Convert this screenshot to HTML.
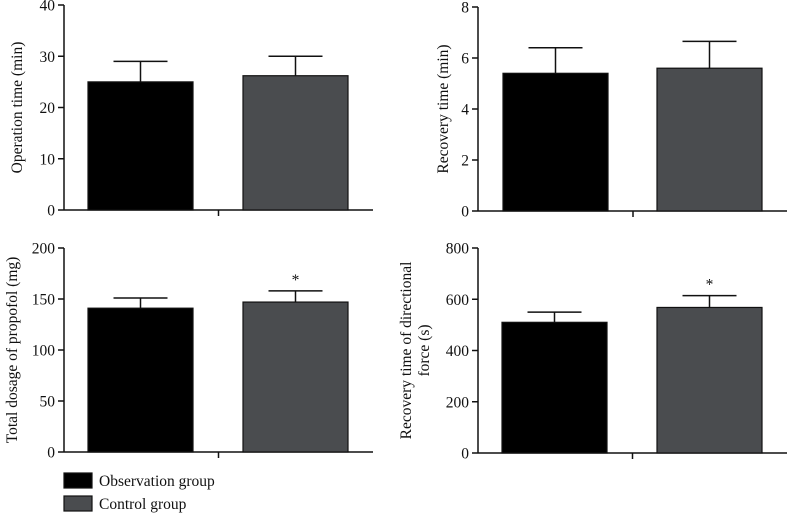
<!DOCTYPE html>
<html><head><meta charset="utf-8"><style>
body{margin:0;background:#fff;}
svg text{font-family:"Liberation Serif",serif;fill:#111;}
</style></head><body>
<svg id="c" width="787" height="514" xmlns="http://www.w3.org/2000/svg"></svg>
<script>
const groups=["Observation group","Control group"];
const opMeans=[25,26.2], opErr=[4,3.8];
const recMeans=[5.4,5.6], recErr=[1.0,1.05];
const propMeans=[141,147], propErr=[10,11];
const forceMeans=[510,568], forceErr=[40,46];
const opTicks=[0,10,20,30,40], recTicks=[0,2,4,6,8], propTicks=[0,50,100,150,200], forceTicks=[0,200,400,600,800];
const propSig=[false,true], forceSig=[false,true];
const colors=["#000000","#4a4c4f"];
const NS="http://www.w3.org/2000/svg";
const svg=document.getElementById('c');
const FS=15.5;
function mk(t,a,p){const e=document.createElementNS(NS,t);for(const k in a)e.setAttribute(k,a[k]);(p||svg).appendChild(e);return e;}
function panel(name,ax,axEnd,yTop,yBot,ticks,means,errs,sig,title,bx,labX){
  const g=mk('g',{});
  
  
  const max=ticks[ticks.length-1];
  const y=v=>yBot-(v/max)*(yBot-yTop);
  const ya=mk('line',{x1:ax,y1:yTop,x2:ax,y2:yBot,stroke:'#111','stroke-width':1.5},g);
  
  
  const xa=mk('line',{x1:ax,y1:yBot,x2:axEnd,y2:yBot,stroke:'#111','stroke-width':1.5},g);
  
  
  const mid=(bx[0]+bx[1]+106)/2;
  mk('line',{x1:mid,y1:yBot,x2:mid,y2:yBot+6,stroke:'#111','stroke-width':1.5},g);
  ticks.forEach(t=>{
    mk('line',{x1:ax-6,y1:y(t),x2:ax,y2:y(t),stroke:'#111','stroke-width':1.5},g);
    const tx=mk('text',{x:ax-9,y:y(t)+5.5,'text-anchor':'end','font-size':FS},g);
    tx.textContent=t;
    
    
  });
  means.forEach((m,i)=>{
    const x0=bx[i],w=105,cx=x0+w/2,top=y(m),et=y(m+errs[i]);
    mk('line',{x1:cx,y1:top,x2:cx,y2:et,stroke:'#111','stroke-width':1.5},g);
    mk('line',{x1:cx-27,y1:et,x2:cx+27,y2:et,stroke:'#111','stroke-width':1.5},g);
    const r=mk('rect',{x:x0,y:top,width:w,height:yBot-top,fill:colors[i],stroke:'#111','stroke-width':1.2},g);
    
    
    if(sig&&sig[i]){const s=mk('text',{x:cx,y:et-6,'text-anchor':'middle','font-size':FS},g);s.textContent='*';
      
      }
  });
  const cy=(yTop+yBot)/2;
  title.forEach((line,k)=>{
    const tt=mk('text',{x:0,y:0,'text-anchor':'middle','font-size':FS,transform:`translate(${labX+k*18},${cy}) rotate(-90)`},g);
    tt.textContent=line;
    
    
  });
}
panel('operation-time-panel',64,373,5,210,opTicks,opMeans,opErr,null,['Operation time (min)'],[88,243],22);
panel('recovery-time-panel',478,787,7,211,recTicks,recMeans,recErr,null,['Recovery time (min)'],[503,657],448);
panel('propofol-dosage-panel',64,373,248,452,propTicks,propMeans,propErr,propSig,['Total dosage of propofol (mg)'],[88,243],17);
panel('directional-force-panel',478,787,248,453,forceTicks,forceMeans,forceErr,forceSig,['Recovery time of directional','force (s)'],[502,657],411);
groups.forEach((g,i)=>{
  const yy=473+i*23;
  const lg=mk('g',{});
  
  
  mk('rect',{x:64,y:yy,width:28,height:15,fill:colors[i],stroke:'#111','stroke-width':1.2},lg);
  const t=mk('text',{x:99,y:yy+13,'font-size':FS},lg);t.textContent=g;
});
</script>
</body></html>
